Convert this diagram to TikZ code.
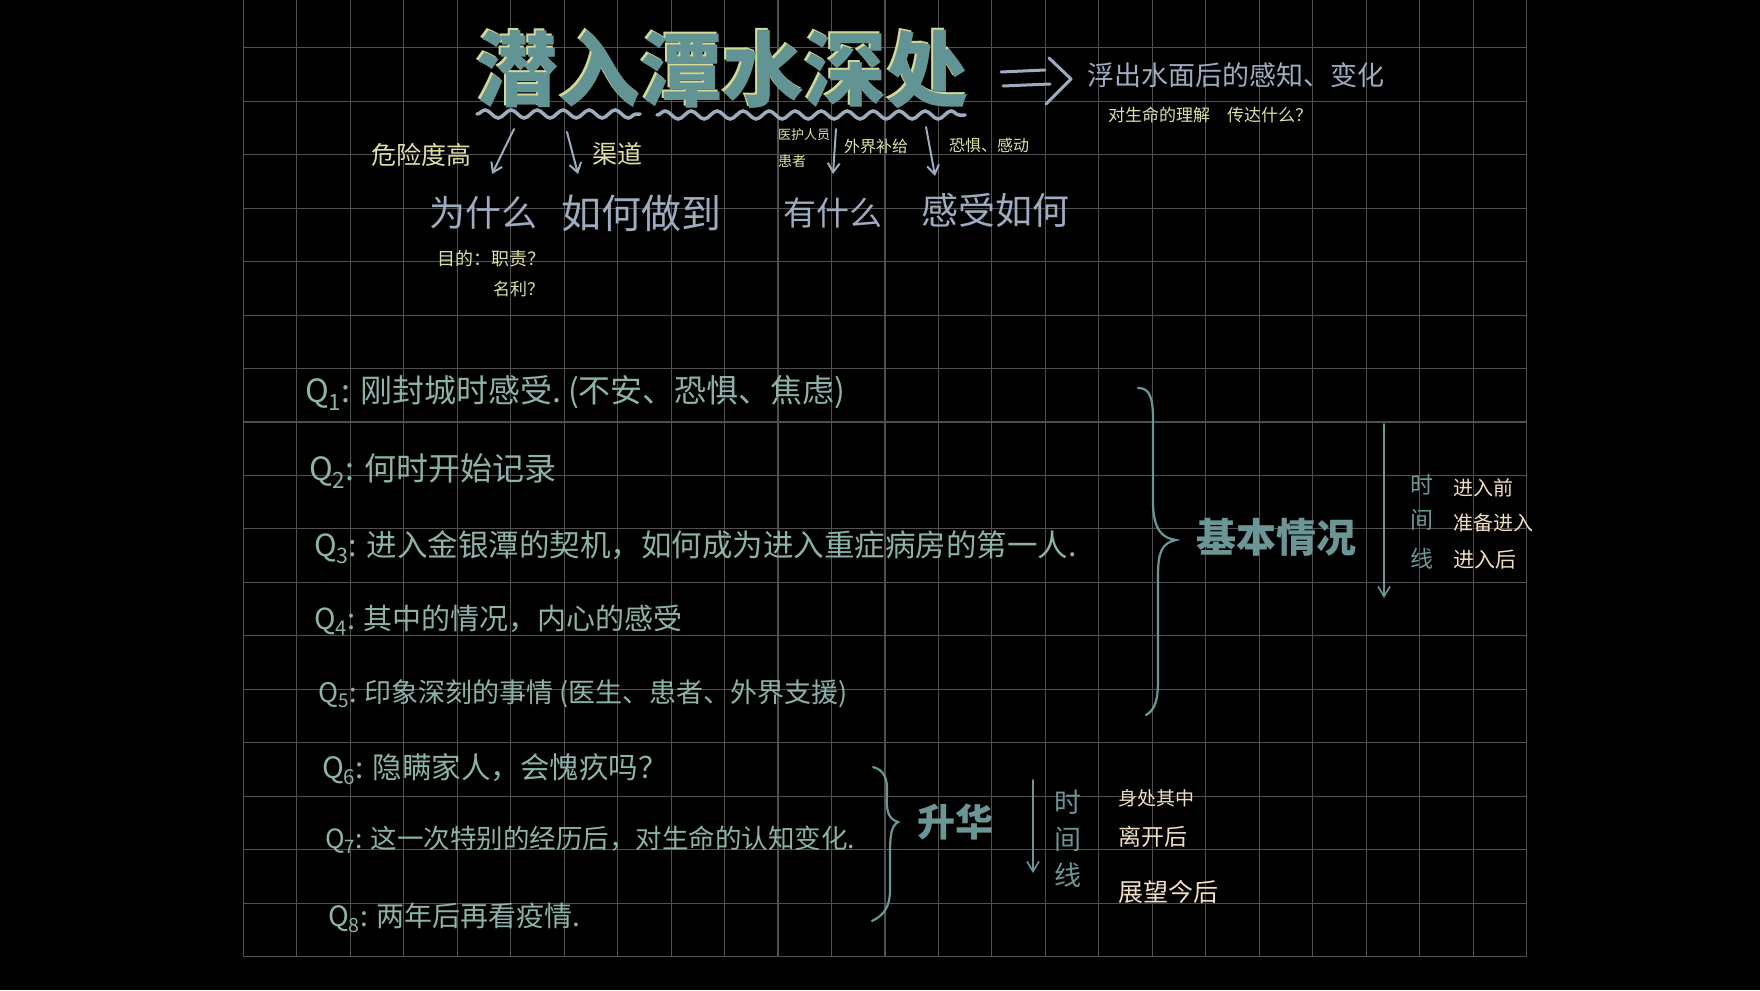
\documentclass[tikz,border=0pt]{standalone}
\usepackage{fontspec}
\setmainfont{Noto Sans CJK SC}
\usetikzlibrary{arrows.meta,decorations.pathmorphing}
\definecolor{gridc}{RGB}{80,80,80}
\definecolor{qteal}{RGB}{140,178,170}
\definecolor{dteal}{RGB}{108,150,150}
\definecolor{bgray}{RGB}{158,172,192}
\definecolor{cream}{RGB}{222,224,165}
\definecolor{peach}{RGB}{242,222,195}
\definecolor{ttlteal}{RGB}{98,148,150}
\definecolor{ttlcream}{RGB}{212,218,150}
\newcommand\fsz[1]{\fontsize{#1}{#1}\selectfont}
\tikzset{
  gridline/.style={draw=gridc, line width=1.1pt},
  txt/.style={inner sep=0pt, outer sep=0pt},
  qline/.style={txt, anchor=west, text=qteal},
  arr/.style={draw=bgray, line width=2pt, line cap=round, -{Straight Barb[length=9pt,width=12pt]}},
  tarr/.style={draw=dteal, line width=1.6pt, line cap=round, -{Straight Barb[length=10pt,width=12pt]}},
  brace/.style={draw=dteal, line width=2.2pt, line cap=round},
  wave/.style={draw=bgray, line width=3.5pt, line cap=round, decorate, decoration={snake, amplitude=4pt, segment length=26pt}}
}
\begin{document}
\begin{tikzpicture}[x=1pt,y=-1pt]
\useasboundingbox (0,0) rectangle (1760,990);
\fill[black] (0,0) rectangle (1760,990);
% grid
\foreach \i in {0,...,24} \draw[gridline] ({243.3+53.47*\i},0) -- ({243.3+53.47*\i},956.7);
\foreach \j in {0,...,17} \draw[gridline] (243.3,{47.7+53.47*\j}) -- (1526.7,{47.7+53.47*\j});

% title
\node[txt, text=ttlcream, font=\bfseries] (titleshadow) at (720,68) {\fsz{82}潜入潭水深处};
\node[txt, text=ttlteal, font=\bfseries] (title) at (722,70) {\fsz{82}潜入潭水深处};
\draw[wave] (477,114) -- (640,114);
\draw[wave] (657,115) -- (965,115);

% double arrow
\coordinate (dbl1a) at (1001,72); \coordinate (dbl1b) at (1045,70);
\coordinate (dbl2a) at (1003,86); \coordinate (dbl2b) at (1050,84);
\draw[draw=bgray, line width=3pt, line cap=round] (dbl1a) -- (dbl1b);
\draw[draw=bgray, line width=3pt, line cap=round] (dbl2a) -- (dbl2b);
\draw[draw=bgray, line width=3pt, line cap=round, line join=round] (1049,58) -- (1071,79) -- (1046,104);
\node[txt, anchor=west, text=bgray] (float) at (1087,75) {\fsz{27}浮出水面后的感知、变化};
\node[txt, anchor=west, text=cream] (life) at (1108,115) {\fsz{17}对生命的理解\hspace{17pt}传达什么？};

% labels above
\node[txt, text=cream] (danger) at (421,155) {\fsz{25}危险度高};
\node[txt, text=cream] (channel) at (617,154) {\fsz{25}渠道};
\node[txt, text=cream] (staff) at (804,135) {\fsz{13}医护人员};
\node[txt, text=cream, anchor=west] (patient) at (778,161) {\fsz{14}患者};
\node[txt, text=cream] (supply) at (876,146) {\fsz{16}外界补给};
\node[txt, text=cream] (fear) at (989,145) {\fsz{16}恐惧、感动};

% arrows
\coordinate (a1s) at (514,129); \coordinate (a1e) at (492,174);
\coordinate (a2s) at (567,132); \coordinate (a2e) at (578,174);
\coordinate (a3s) at (836,129); \coordinate (a3e) at (833,174);
\coordinate (a4s) at (926,127); \coordinate (a4e) at (935,176);
\draw[arr] (a1s) -- (a1e);
\draw[arr] (a2s) -- (a2e);
\draw[arr] (a3s) -- (a3e);
\draw[arr] (a4s) -- (a4e);

% question words
\node[txt, text=bgray] (why) at (483,213) {\fsz{36}为什么};
\node[txt, text=bgray] (how) at (641,213) {\fsz{40}如何做到};
\node[txt, text=bgray] (what) at (833,213) {\fsz{33}有什么};
\node[txt, text=bgray] (feel) at (995,210) {\fsz{37}感受如何};
\node[txt, text=cream] (purpose) at (491,259) {\fsz{18}目的：职责？};
\node[txt, text=cream, anchor=east] (fame) at (544,289) {\fsz{17}名利？};

% questions
\node[qline] (q1) at (305,393) {\fsz{32}Q\textsubscript{1}: 刚封城时感受.\ (不安、恐惧、焦虑)};
\node[qline] (q2) at (309,471) {\fsz{32}Q\textsubscript{2}: 何时开始记录};
\node[qline] (q3) at (314,547) {\fsz{30.5}Q\textsubscript{3}: 进入金银潭的契机，如何成为进入重症病房的第一人.};
\node[qline] (q4) at (314,620) {\fsz{29}Q\textsubscript{4}: 其中的情况，内心的感受};
\node[qline] (q5) at (318,694) {\fsz{27}Q\textsubscript{5}: 印象深刻的事情 (医生、患者、外界支援)};
\node[qline] (q6) at (322,769) {\fsz{29.5}Q\textsubscript{6}: 隐瞒家人，会愧疚吗？};
\node[qline] (q7) at (325,840) {\fsz{26.5}Q\textsubscript{7}: 这一次特别的经历后，对生命的认知变化.};
\node[qline] (q8) at (328,918) {\fsz{28}Q\textsubscript{8}: 两年后再看疫情.};

% brace 1
\draw[brace] (1138,388) .. controls (1150,388) and (1153,398) .. (1153,420) -- (1153,505)
  .. controls (1154,530) and (1162,538) .. (1176,540)
  .. controls (1162,543) and (1158,552) .. (1158,575) -- (1158,680)
  .. controls (1158,700) and (1155,710) .. (1146,715);
\node[txt, text=dteal, font=\bfseries] (basic) at (1276,537) {\fsz{40}基本情况};
\coordinate (t1s) at (1384,424); \coordinate (t1e) at (1384,598);
\draw[tarr] (t1s) -- (t1e);
\node[txt, text=dteal] (t1a) at (1422,485) {\fsz{23}时};
\node[txt, text=dteal] (t1b) at (1422,520) {\fsz{23}间};
\node[txt, text=dteal] (t1c) at (1422,559) {\fsz{23}线};
\node[txt, text=peach, anchor=west] (before) at (1453,488) {\fsz{20}进入前};
\node[txt, text=peach, anchor=west] (prep) at (1453,523) {\fsz{20}准备进入};
\node[txt, text=peach, anchor=west] (after) at (1453,560) {\fsz{21}进入后};

% brace 2
\draw[brace] (873,767) .. controls (884,770) and (888,778) .. (887,795)
  .. controls (886,810) and (888,819) .. (898,822)
  .. controls (891,826) and (890,836) .. (890,855) -- (890,890)
  .. controls (890,905) and (885,915) .. (872,921);
\node[txt, text=dteal, font=\bfseries] (sublim) at (955,822) {\fsz{38}升华};
\coordinate (t2s) at (1033,780); \coordinate (t2e) at (1033,873);
\draw[tarr] (t2s) -- (t2e);
\node[txt, text=dteal] (t2a) at (1068,802) {\fsz{27}时};
\node[txt, text=dteal] (t2b) at (1068,839) {\fsz{27}间};
\node[txt, text=dteal] (t2c) at (1068,875) {\fsz{27}线};
\node[txt, text=peach, anchor=west] (inside) at (1118,798) {\fsz{19}身处其中};
\node[txt, text=peach, anchor=west] (leave) at (1118,837) {\fsz{23}离开后};
\node[txt, text=peach, anchor=west] (future) at (1118,892) {\fsz{25}展望今后};
\end{tikzpicture}
\end{document}
